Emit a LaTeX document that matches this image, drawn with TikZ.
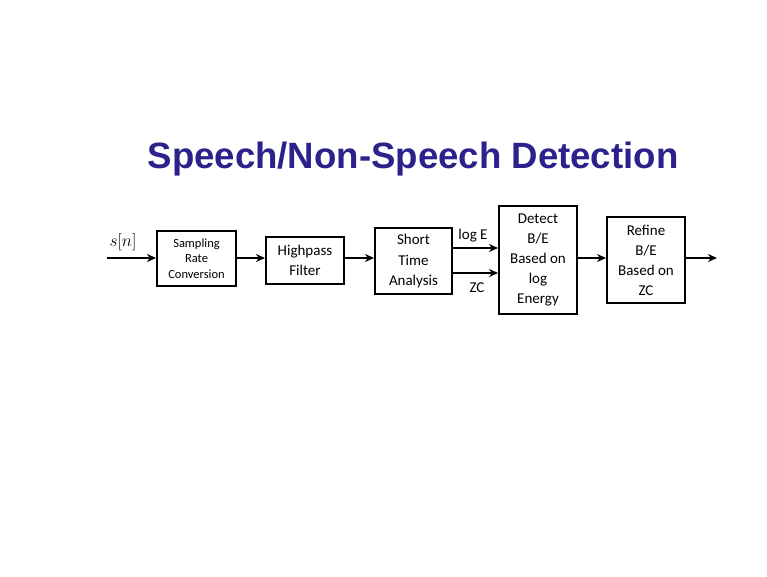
\documentclass[tikz,border=0pt]{standalone}
\usepackage{fontspec}
\setmainfont{Carlito}
\newfontfamily\titlefont{Liberation Sans}
\usetikzlibrary{arrows.meta}

\definecolor{titleblue}{RGB}{43,34,140}

\tikzset{
    block/.style={draw, line width=2pt, align=center, inner sep=0pt,
        font=\fontsize{15}{20}\selectfont},
    flow/.style={-{Stealth[length=9pt,width=8pt]}, line width=2pt},
    tag/.style={font=\fontsize{15}{18}\selectfont, inner sep=0pt}
}

\begin{document}
\begin{tikzpicture}[x=1pt, y=-1pt]
    \useasboundingbox[fill=white] (0,0) rectangle (767,577);

    \node[font=\titlefont\bfseries\fontsize{36.6}{40}\selectfont, text=titleblue] at (413,159) (title) {Speech/Non-Speech Detection};

    \node[block, minimum width=79pt, minimum height=55pt, font=\fontsize{12.5}{15.5}\selectfont] at (196.5,258.5) (src) {Sampling\\Rate\\Conversion};
    \node[block, minimum width=78pt, minimum height=47pt] at (305,260.5) (hpf) {Highpass\\Filter};
    \node[block, minimum width=77pt, minimum height=66pt] at (413.5,261) (sta) {Short\\Time\\Analysis};
    \node[block, minimum width=78pt, minimum height=108pt] at (538,260) (detect) {Detect\\B/E\\Based on\\log\\Energy};
    \node[block, minimum width=78pt, minimum height=86pt] at (646,260) (refine) {Refine\\B/E\\Based on\\ZC};

    % signal line height
    \coordinate (in) at (107,258);
    \coordinate (out) at (717,258);
    \node[font=\fontsize{16}{18}\selectfont] at (123,242) (sn) {$s[n]$};

    \node[tag] at (473,236) (loge) {log E};
    \node[tag] at (477,288) (zc) {ZC};

    \path[flow]
        (in) edge (src.west |- in)
        (src.east |- in) edge (hpf.west |- in)
        (hpf.east |- in) edge (sta.west |- in)
        (detect.east |- in) edge (refine.west |- in)
        (refine.east |- out) edge (out)
        (sta.east |- 0,248) edge (detect.west |- 0,248)
        (sta.east |- 0,273) edge (detect.west |- 0,273);
\end{tikzpicture}
\end{document}
